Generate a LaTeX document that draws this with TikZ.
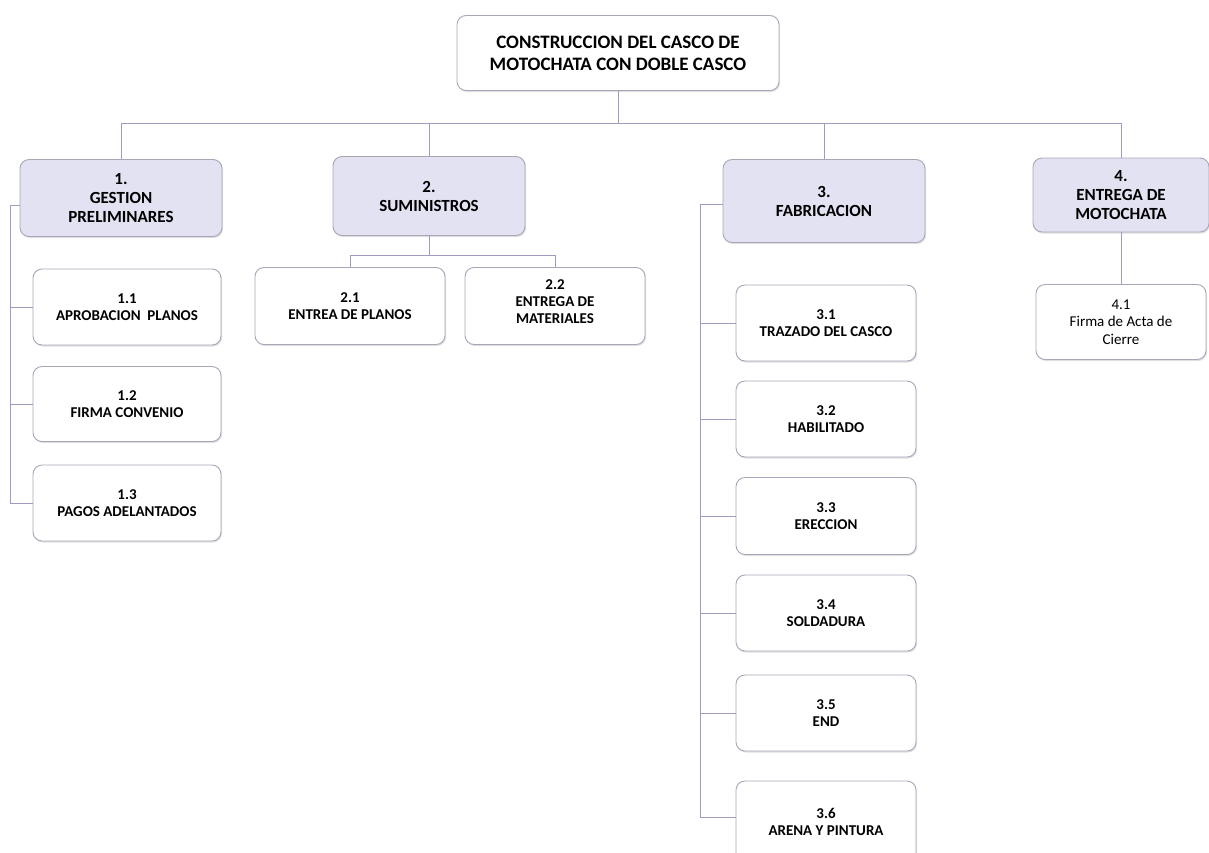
\documentclass[tikz,border=0pt]{standalone}
\usepackage{fontspec}
\setmainfont{Carlito}
\usetikzlibrary{shadows,calc}
\definecolor{lvlfill}{HTML}{E2E2F2}
\definecolor{boxline}{HTML}{A8A6B8}
\definecolor{conn}{HTML}{A49AC0}
\tikzset{
  basebox/.style={draw=boxline, line width=0.9pt, rounded corners=9pt, align=center, inner sep=2pt,
    drop shadow={opacity=0.25, shadow xshift=1pt, shadow yshift=-1.5pt}},
  topbox/.style={basebox, fill=white, minimum width=322pt, minimum height=75pt,
    font=\fontsize{19}{22}\selectfont\bfseries},
  lvlone/.style={basebox, fill=lvlfill, minimum width=202pt, minimum height=77pt,
    font=\fontsize{17}{19}\selectfont\bfseries},
  lvltwo/.style={basebox, fill=white, minimum width=188pt, minimum height=76pt,
    font=\fontsize{15}{17}\selectfont\bfseries},
  lvlreg/.style={lvltwo, font=\fontsize{15}{17.5}\selectfont},
  link/.style={draw=conn, line width=0.9pt}
}
\begin{document}
\begin{tikzpicture}[x=1pt,y=-1pt]
\useasboundingbox (0,0) rectangle (1209,852);
% top
\node[topbox] (top) at (618,53) {CONSTRUCCION DEL CASCO DE\\MOTOCHATA CON DOBLE CASCO};
% level one
\node[lvlone] (n1) at (121,198) {1.\\GESTION\\PRELIMINARES};
\node[lvlone, minimum width=192pt, minimum height=79pt] (n2) at (429,196) {2.\\SUMINISTROS};
\node[lvlone, minimum height=83pt] (n3) at (824,201) {3.\\FABRICACION};
\node[lvlone, minimum width=176pt, minimum height=74pt] (n4) at (1121,195) {4.\\ENTREGA DE\\MOTOCHATA};
% group 1 children
\node[lvltwo] (n11) at (127,307) {1.1\\APROBACION\ \ PLANOS};
\node[lvltwo, minimum height=75pt] (n12) at (127,404) {1.2\\FIRMA CONVENIO};
\node[lvltwo] (n13) at (127,503) {1.3\\PAGOS ADELANTADOS};
% group 2 children
\node[lvltwo, minimum width=190pt, minimum height=77pt] (n21) at (350,306) {2.1\\ENTREA DE PLANOS};
\node[lvltwo, minimum width=180pt, minimum height=77pt] (n22) at (555,306) {2.2\\ENTREGA DE\\MATERIALES\\[-8pt]};
% group 3 children
\node[lvltwo, minimum width=180pt] (n31) at (826,323) {3.1\\TRAZADO DEL CASCO};
\node[lvltwo, minimum width=180pt] (n32) at (826,419) {3.2\\HABILITADO};
\node[lvltwo, minimum width=180pt, minimum height=77pt] (n33) at (826,516) {3.3\\ERECCION};
\node[lvltwo, minimum width=180pt] (n34) at (826,613) {3.4\\SOLDADURA};
\node[lvltwo, minimum width=180pt] (n35) at (826,713) {3.5\\END};
\node[lvltwo, minimum width=180pt, minimum height=82pt] (n36) at (826,822) {3.6\\ARENA Y PINTURA};
% group 4 child
\node[lvlreg, minimum width=170pt, minimum height=75pt] (n41) at (1121,322) {4.1\\Firma de Acta de\\Cierre};
% connectors: top to level one
\coordinate (hub) at ($(top.south)+(0,32)$);
\draw[link] (top.south) -- (hub);
\draw[link] (n1.north |- hub) -- (n4.north |- hub);
\draw[link] (n1.north |- hub) -- (n1.north);
\draw[link] (n2.north |- hub) -- (n2.north);
\draw[link] (n3.north |- hub) -- (n3.north);
\draw[link] (n4.north |- hub) -- (n4.north);
% group 1
\coordinate (s1) at (10,205);
\draw[link] (n1.west |- s1) -- (s1) |- (n13.west);
\draw[link] (s1 |- n11.west) -- (n11.west);
\draw[link] (s1 |- n12.west) -- (n12.west);
% group 2
\coordinate (s2) at (429,255);
\draw[link] (n2.south) -- (s2);
\draw[link] (n21.north |- s2) -- (n22.north |- s2);
\draw[link] (n21.north |- s2) -- (n21.north);
\draw[link] (n22.north |- s2) -- (n22.north);
% group 3
\coordinate (s3) at (700,204);
\coordinate (e36) at (736,817);
\draw[link] (n3.west |- s3) -- (s3) |- (e36);
\draw[link] (s3 |- n31.west) -- (n31.west);
\draw[link] (s3 |- n32.west) -- (n32.west);
\draw[link] (s3 |- n33.west) -- (n33.west);
\draw[link] (s3 |- n34.west) -- (n34.west);
\draw[link] (s3 |- n35.west) -- (n35.west);
% group 4
\draw[link] (n4.south) -- (n41.north);
\end{tikzpicture}
\end{document}
